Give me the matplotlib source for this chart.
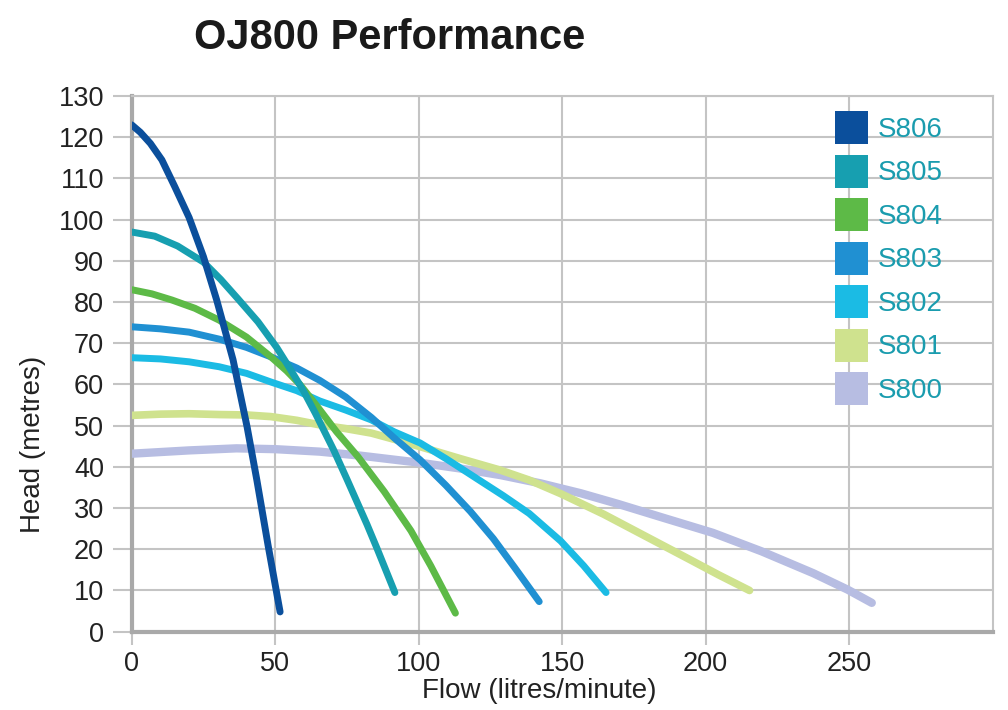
import matplotlib
matplotlib.use("Agg")
import matplotlib.pyplot as plt
from matplotlib.patches import Patch

plt.rcParams["font.family"] = ["Liberation Sans", "DejaVu Sans"]

# pump curves: flow (l/min) -> head (m)
models = ["S806", "S805", "S804", "S803", "S802", "S801", "S800"]
colors = ["#0b4f9c", "#179fb0", "#5dba47", "#2090d2", "#1bbbe4", "#cfe28e", "#b7bde2"]

s806_x = [0, 3, 6.5, 10.5, 15, 20, 25, 29.6, 35.3, 40.2, 43.6, 47.5, 51.7]
s806_y = [123, 121.2, 118.5, 114.5, 108, 100.5, 91, 80.5, 66, 49.7, 36.8, 21, 4.8]
s805_x = [0, 8, 16, 25, 31, 37, 44, 50.5, 55, 59.8, 64, 70.3, 75, 78.5, 82, 85.6, 91.7]
s805_y = [97, 96, 93.6, 89.7, 85.5, 80.8, 75.2, 69, 64, 58.5, 53, 44.2, 37, 31.5, 26, 20, 9.5]
s804_x = [0, 7, 14, 22, 30.5, 40, 48.5, 54, 58.6, 64.5, 71.4, 78.8, 88, 97.3, 104.2, 112.8]
s804_y = [83, 82, 80.5, 78.5, 75.6, 71.5, 66.7, 63.3, 60, 54.8, 48.5, 42.5, 34, 24.5, 16, 4.5]
s803_x = [0, 10, 20, 30.5, 40, 48.5, 57.5, 65.5, 74.5, 83.5, 91.5, 100.5, 109.5, 118, 126, 133.5, 142]
s803_y = [74, 73.5, 72.7, 71, 69, 66.7, 64, 61, 57, 52, 47, 41.7, 35.5, 29.2, 22.6, 15.5, 7.3]
s802_x = [0, 10, 20, 30.5, 40, 48.5, 57.5, 65.5, 74.5, 83.5, 91.5, 100.5, 109.5, 119.5, 129.5, 138.5, 149.5, 157.5, 165.3]
s802_y = [66.5, 66.2, 65.5, 64.3, 62.7, 60.6, 58.5, 56, 53.8, 51.4, 48.5, 45.8, 42, 37.5, 33, 28.7, 22, 16, 9.5]
s801_x = [0, 10, 20, 30.5, 40, 48.5, 57.5, 65.5, 74.5, 83.5, 93.5, 100.5, 114.5, 128.5, 138.5, 149.5, 164.5, 179.5, 194.5, 204.5, 215.3]
s801_y = [52.5, 52.8, 52.9, 52.7, 52.6, 52.2, 51.3, 50.2, 49.3, 48.2, 46.3, 44.9, 42, 39.2, 36.8, 33.5, 28.5, 23, 17.5, 13.8, 10]
s800_x = [0, 10, 20, 30, 36.5, 50, 65.5, 80, 100.5, 114.5, 128.5, 142.5, 156.5, 169.5, 184.5, 202.5, 219.5, 237.5, 249.5, 257.9]
s800_y = [43.2, 43.6, 44.0, 44.3, 44.5, 44.3, 43.7, 42.7, 41, 39.6, 38, 36, 33.6, 31, 27.8, 24, 19.5, 14.2, 10.2, 7]

flows = [s806_x, s805_x, s804_x, s803_x, s802_x, s801_x, s800_x]
heads = [s806_y, s805_y, s804_y, s803_y, s802_y, s801_y, s800_y]
widths = [5.0, 5.0, 5.0, 5.0, 5.0, 5.5, 6.0]

x_ticks = [0, 50, 100, 150, 200, 250]
y_ticks = list(range(0, 131, 10))

fig = plt.figure(figsize=(10.08, 7.10), dpi=100)
ax = fig.add_axes([0.1307, 0.1103, 0.854, 0.7544])

# draw S800 first so the higher-head curves sit on top
for name, c, xs, ys, lw in reversed(list(zip(models, colors, flows, heads, widths))):
    ax.plot(xs, ys, color=c, lw=lw, solid_capstyle="round",
            solid_joinstyle="round", zorder=3)

ax.set_xlim(0, 300)
ax.set_ylim(0, 130)
ax.set_xticks(x_ticks)
ax.set_yticks(y_ticks)
ax.grid(True, color="#c4c4c4", lw=1.5, zorder=0)
ax.set_axisbelow(True)

for side in ["top", "right"]:
    ax.spines[side].set_color("#c4c4c4")
    ax.spines[side].set_linewidth(1.5)
for side in ["left", "bottom"]:
    ax.spines[side].set_color("#a9a9a9")
    ax.spines[side].set_linewidth(3)

ax.tick_params(axis="y", length=14, width=1.5, color="#c4c4c4", pad=6,
               labelsize=19.5, labelcolor="#222222")
ax.tick_params(axis="x", length=9, width=1.5, color="#c4c4c4", pad=5,
               labelsize=19.5, labelcolor="#222222")

ax.set_xlabel("Flow (litres/minute)", fontsize=20, color="#222222")
ax.set_ylabel("Head (metres)", fontsize=20, color="#222222")
ax.xaxis.set_label_coords(0.4736, -0.086)
ax.yaxis.set_label_coords(-0.1, 0.349)

fig.text(0.387, 0.946, "OJ800 Performance", fontsize=30, fontweight="bold",
         color="#1a1a1a", ha="center", va="center")

handles = [Patch(facecolor=c, edgecolor="none") for c in colors]
leg = ax.legend(handles, models, loc="upper left", bbox_to_anchor=(0.817, 0.972),
                frameon=False, fontsize=20, handlelength=1.19, handleheight=1.45,
                handletextpad=0.35, labelspacing=0.38, borderaxespad=0, borderpad=0)
for t in leg.get_texts():
    t.set_color("#1a9cae")

fig.savefig("out.png", dpi=100, facecolor="white")
